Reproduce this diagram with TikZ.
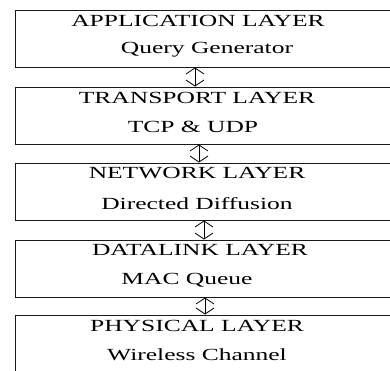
\documentclass[tikz,border=0pt]{standalone}
\usepackage{fontspec}
\setmainfont{Liberation Serif}
\usetikzlibrary{arrows.meta,positioning}

\begin{document}
\begin{tikzpicture}[x=1pt, y=-1pt, >={Straight Barb[length=6pt,width=18pt]},
    layer/.style={draw=black!90, line width=1pt, minimum width=380pt, minimum height=57pt, inner sep=0pt},
    layertext/.style={font=\fontsize{17}{20}\selectfont, inner sep=0pt},
    link/.style={<->, line width=0.8pt}]
    \useasboundingbox (0,0) rectangle (390,370);

    % Layers {app, trans, net, dll, phy}
    \node [layer] (app)   at (205,38.5)  {};
    \node [layer] (trans) at (205,115.5) {};
    \node [layer] (net)   at (205,191.5) {};
    \node [layer] (dll)   at (205,268.5) {};
    \node [layer] (phy)   at (205,343.5) {};

    % Labels
    \node [layertext] (appT)   at (198,21)  {\scalebox{1.5}[1]{APPLICATION LAYER}};
    \node [layertext] (appS)   at (207,50)  {\scalebox{1.5}[1]{Query Generator}};
    \node [layertext] (transT) at (197,98)  {\scalebox{1.5}[1]{TRANSPORT LAYER}};
    \node [layertext] (transS) at (193,127) {\scalebox{1.5}[1]{TCP \& UDP}};
    \node [layertext] (netT)   at (197,173) {\scalebox{1.5}[1]{NETWORK LAYER}};
    \node [layertext] (netS)   at (197,204) {\scalebox{1.5}[1]{Directed Diffusion}};
    \node [layertext] (dllT)   at (200,250) {\scalebox{1.5}[1]{DATALINK LAYER}};
    \node [layertext] (dllS)   at (187,280) {\scalebox{1.5}[1]{MAC Queue}};
    \node [layertext] (phyT)   at (197,326) {\scalebox{1.5}[1]{PHYSICAL LAYER}};
    \node [layertext] (phyS)   at (197,355) {\scalebox{1.5}[1]{Wireless Channel}};

    % Paths
    \draw [link] ([xshift=-10pt]app.south) -- ([xshift=-10pt]trans.north);
    \draw [link] ([xshift=-6pt]trans.south) -- ([xshift=-6pt]net.north);
    \draw [link] ([xshift=-1pt]net.south)  -- ([xshift=-1pt]dll.north);
    \draw [link] (dll.south) -- (phy.north);

\end{tikzpicture}
\end{document}
